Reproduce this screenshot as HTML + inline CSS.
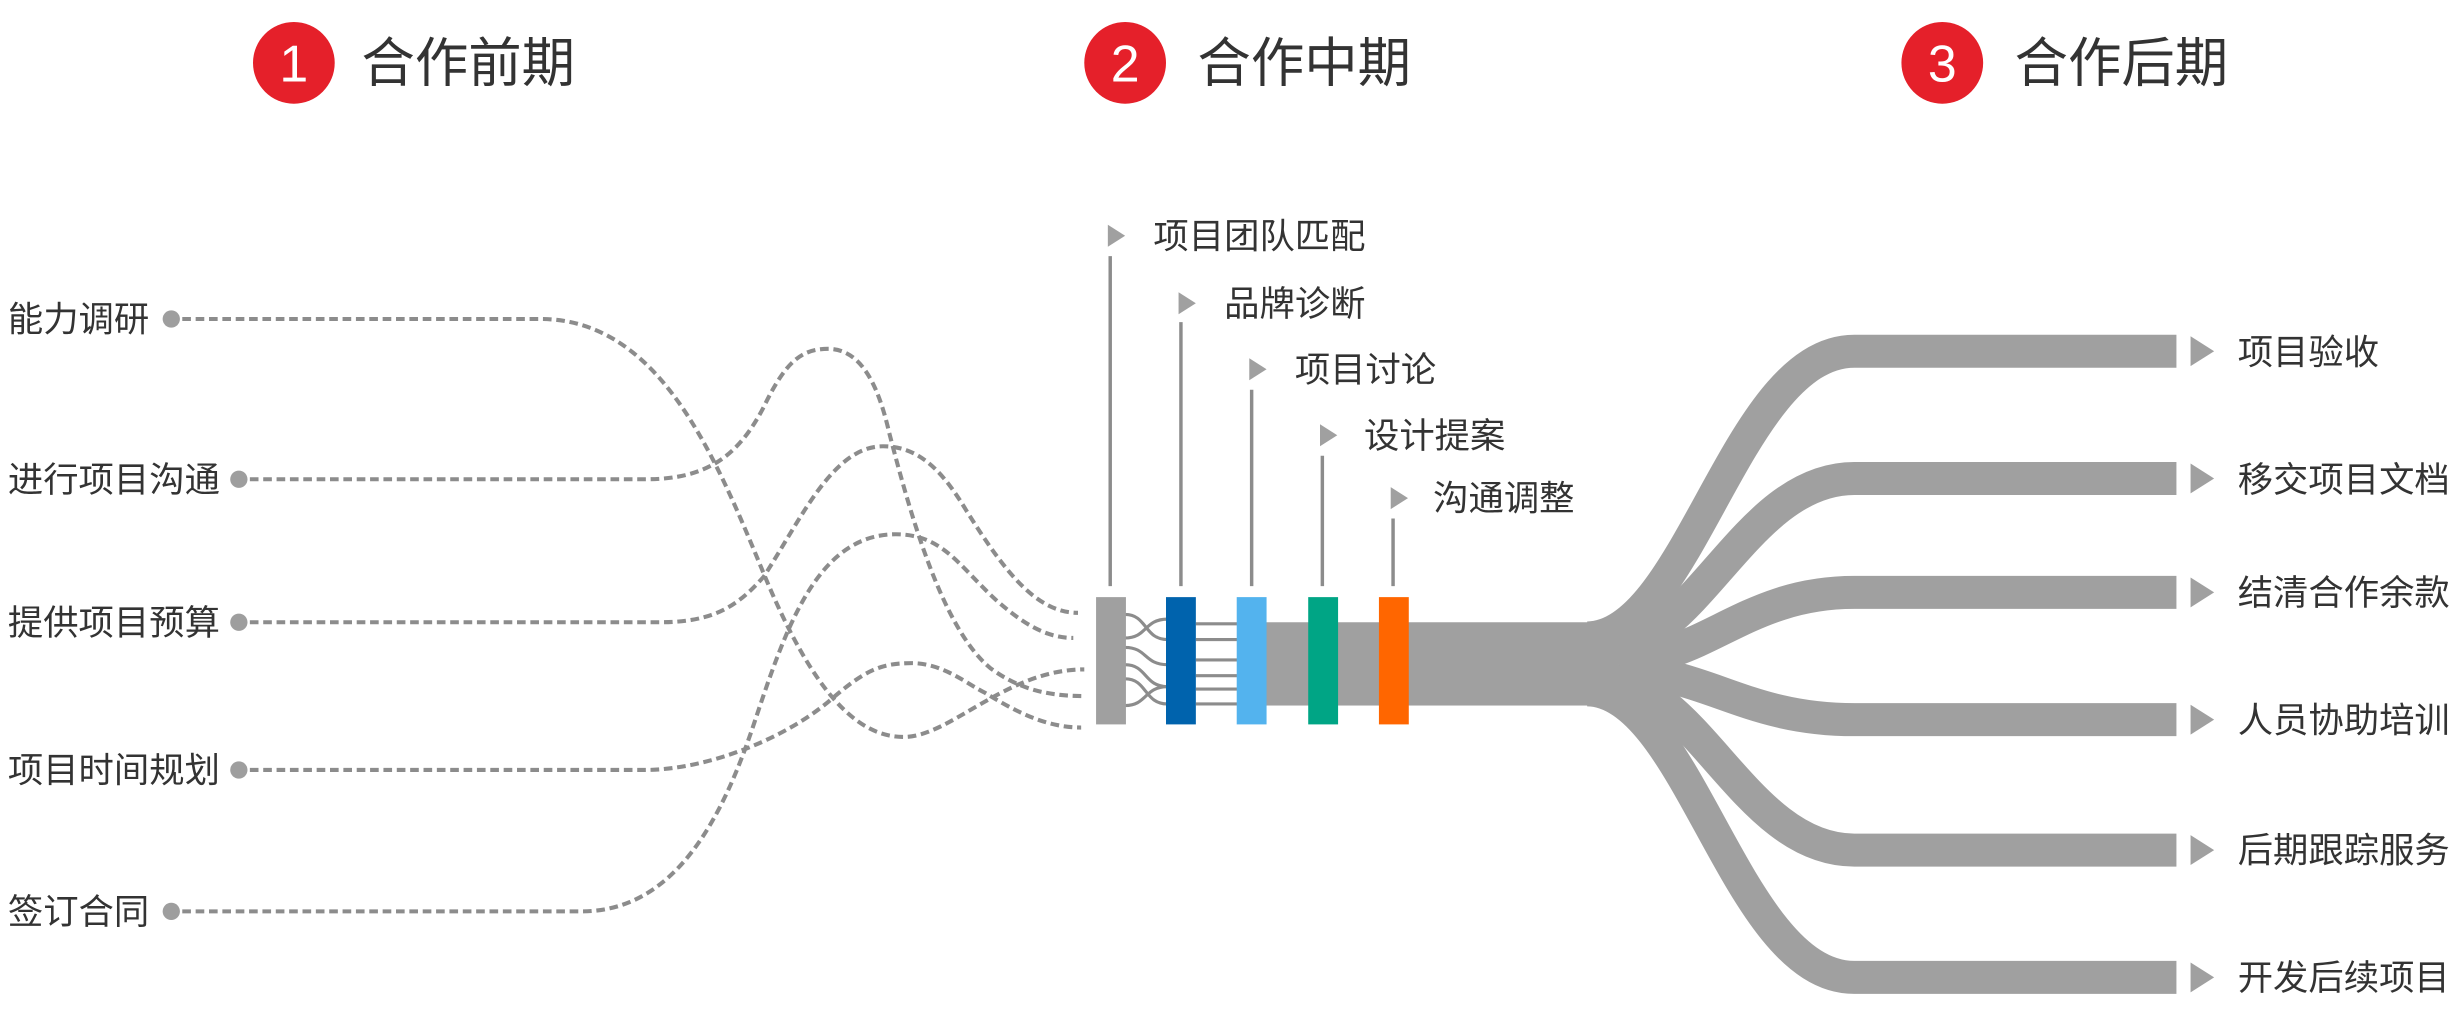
<!DOCTYPE html>
<html><head><meta charset="utf-8"><style>
html,body{margin:0;padding:0;background:#fff;}
svg{display:block;}
text{font-family:"Liberation Sans","Noto Sans CJK SC",sans-serif;fill:#333;}
</style></head><body>
<svg width="2464" height="1014" viewBox="0 0 1568 645.3" preserveAspectRatio="none" xmlns="http://www.w3.org/2000/svg">
<!-- headers -->
<circle cx="187" cy="40" r="26" fill="#e5202a"/>
<text x="187" y="52" font-size="33" style="fill:#fff" text-anchor="middle">1</text>
<text x="230" y="52" font-size="34">合作前期</text>
<circle cx="716" cy="40" r="26" fill="#e5202a"/>
<text x="716" y="52" font-size="33" style="fill:#fff" text-anchor="middle">2</text>
<text x="762" y="52" font-size="34">合作中期</text>
<circle cx="1236" cy="40" r="26" fill="#e5202a"/>
<text x="1236" y="52" font-size="33" style="fill:#fff" text-anchor="middle">3</text>
<text x="1282" y="52" font-size="34">合作后期</text>

<!-- left labels -->
<g font-size="22.5">
<text x="5" y="211">能力调研</text>
<text x="5" y="313">进行项目沟通</text>
<text x="5" y="404">提供项目预算</text>
<text x="5" y="498">项目时间规划</text>
<text x="5" y="588">签订合同</text>
</g>
<g fill="#9e9e9e">
<circle cx="109" cy="203" r="5.5"/>
<circle cx="152" cy="305" r="5.5"/>
<circle cx="152" cy="396" r="5.5"/>
<circle cx="152" cy="490" r="5.5"/>
<circle cx="109" cy="580" r="5.5"/>
</g>
<g fill="none" stroke="#8c8c8c" stroke-width="2.6" stroke-dasharray="5.5 3">
<path d="M116 203 H345 C420 204 455 290 486 365 S545 469 575 469 S640 426 690 426"/>
<path d="M159 305 H411 C450 305 470 290 486 259 C500 230 510 222 527 222 C550 222 560 250 566 276 C580 330 600 400 630 425 C650 440 670 443 691 443"/>
<path d="M159 396 H420 C455 396 470 385 486 367 C510 330 530 284 562 284 C585 284 600 300 615 325 C640 365 660 390 686 390"/>
<path d="M159 490 H410 C450 490 500 470 529 445 C550 427 560 422 580 422 C600 422 615 435 627 441 C645 452 665 463 688 463"/>
<path d="M116 580 H370 C430 580 460 520 480 460 C500 400 520 340 570 340 C600 340 610 360 634 382 C650 396 665 406 683 406"/>
</g>

<!-- middle stems, triangles, labels -->
<g stroke="#8c8c8c" stroke-width="2.2">
<line x1="706.5" y1="163" x2="706.5" y2="373"/>
<line x1="751.5" y1="205" x2="751.5" y2="373"/>
<line x1="796.5" y1="248" x2="796.5" y2="373"/>
<line x1="841.5" y1="290" x2="841.5" y2="373"/>
<line x1="886.5" y1="330" x2="886.5" y2="373"/>
</g>
<g fill="#a0a0a0">
<polygon points="705,143 716,150 705,157"/>
<polygon points="750,186 761,193 750,200"/>
<polygon points="795,228 806,235 795,242"/>
<polygon points="840,270 851,277 840,284"/>
<polygon points="885,310 896,317 885,324"/>
</g>
<g font-size="22.5">
<text x="734" y="158">项目团队匹配</text>
<text x="779" y="201">品牌诊断</text>
<text x="824" y="243">项目讨论</text>
<text x="868" y="285">设计提案</text>
<text x="912" y="325">沟通调整</text>
</g>

<!-- main band -->
<rect x="800" y="396" width="230" height="53" fill="#a0a0a0"/>
<!-- fan branches -->
<g fill="none" stroke="#a0a0a0" stroke-width="21">
<path d="M1010 406 C1075 406 1105 223.5 1180 223.5 L1385 223.5"/>
<path d="M1020 413 C1080 413 1110 304.5 1180 304.5 L1385 304.5"/>
<path d="M1030 420 C1085 420 1110 377 1180 377 L1385 377"/>
<path d="M1030 427 C1085 427 1110 458 1180 458 L1385 458"/>
<path d="M1020 433 C1080 433 1110 541 1180 541 L1385 541"/>
<path d="M1010 439 C1075 439 1105 622 1180 622 L1385 622"/>
</g>
<g fill="#a0a0a0">
<polygon points="1394,214 1409,223.5 1394,233"/>
<polygon points="1394,295 1409,304.5 1394,314"/>
<polygon points="1394,367.5 1409,377 1394,386.5"/>
<polygon points="1394,448.5 1409,458 1394,467.5"/>
<polygon points="1394,531.5 1409,541 1394,550.5"/>
<polygon points="1394,612.5 1409,622 1394,631.5"/>
</g>
<g font-size="22.5">
<text x="1424" y="232">项目验收</text>
<text x="1424" y="313">移交项目文档</text>
<text x="1424" y="385">结清合作余款</text>
<text x="1424" y="466">人员协助培训</text>
<text x="1424" y="549">后期跟踪服务</text>
<text x="1424" y="630">开发后续项目</text>
</g>

<!-- connector lines between gray box and blue -->
<g fill="none" stroke="#8c8c8c" stroke-width="2">
<path d="M716 391 C730 391 728 407 743 407"/>
<path d="M716 406 C730 406 728 394 743 394"/>
<path d="M716 412 C730 412 728 423 743 423"/>
<path d="M716 423 C730 423 728 437 743 437"/>
<path d="M716 432 C730 432 728 448 743 448"/>
<path d="M716 449 C730 449 728 437 743 437"/>
<line x1="761" y1="397" x2="788" y2="397"/>
<line x1="761" y1="407" x2="788" y2="407"/>
<line x1="761" y1="420" x2="788" y2="420"/>
<line x1="761" y1="430" x2="788" y2="430"/>
<line x1="761" y1="438.5" x2="788" y2="438.5"/>
<line x1="761" y1="448" x2="788" y2="448"/>
</g>
<!-- bars -->
<rect x="697.5" y="380" width="19" height="81" fill="#a0a0a0"/>
<rect x="742" y="380" width="19" height="81" fill="#0063ad"/>
<rect x="787" y="380" width="19" height="81" fill="#53b3ee"/>
<rect x="832.5" y="380" width="19" height="81" fill="#00a585"/>
<rect x="877.5" y="380" width="19" height="81" fill="#ff6600"/>
</svg>
</body></html>
